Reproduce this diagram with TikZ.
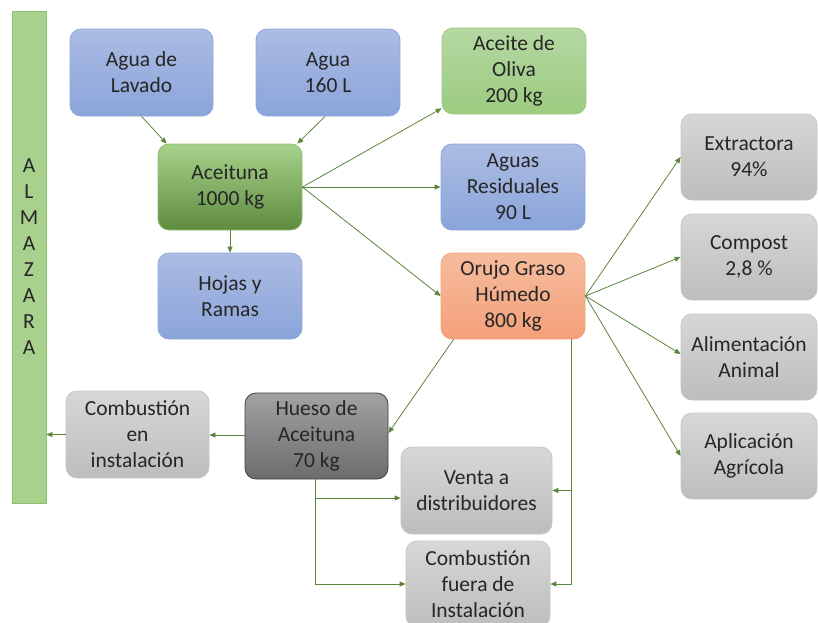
\documentclass[tikz,border=0pt]{standalone}
\usepackage{fontspec}
\setmainfont{Carlito}
\usetikzlibrary{arrows.meta,calc}

\definecolor{txt}{HTML}{262626}
\definecolor{flow}{HTML}{5A863C}
\definecolor{blueT}{HTML}{ACBCE3}
\definecolor{blueB}{HTML}{8AA4DA}
\definecolor{blueD}{HTML}{8EA8DC}
\definecolor{oilT}{HTML}{B4D8A2}
\definecolor{oilB}{HTML}{9CCB80}
\definecolor{oilD}{HTML}{9FCC84}
\definecolor{oliveT}{HTML}{A7D28B}
\definecolor{oliveB}{HTML}{5E8B40}
\definecolor{oliveD}{HTML}{8DBD6E}
\definecolor{pomT}{HTML}{F6BC9C}
\definecolor{pomB}{HTML}{F4A07A}
\definecolor{pomD}{HTML}{F3A47C}
\definecolor{greyT}{HTML}{D7D7D7}
\definecolor{greyB}{HTML}{BDBDBD}
\definecolor{greyD}{HTML}{C6C6C6}
\definecolor{stoneT}{HTML}{A2A2A2}
\definecolor{stoneB}{HTML}{6C6C6C}
\definecolor{stoneD}{HTML}{3F3F3F}
\definecolor{barF}{HTML}{A9D18E}
\definecolor{barD}{HTML}{8CC26E}

\tikzset{
  box/.style={draw, rounded corners=11pt, minimum width=144pt, minimum height=86pt,
    inner sep=0pt, align=center, font=\fontsize{21.5}{26}\selectfont, text=txt,
    line width=0.8pt},
  bluebox/.style={box, top color=blueT, bottom color=blueB, draw=blueD},
  oilbox/.style={box, top color=oilT, bottom color=oilB, draw=oilD},
  olivebox/.style={box, top color=oliveT, bottom color=oliveB, draw=oliveD},
  pombox/.style={box, top color=pomT, bottom color=pomB, draw=pomD},
  greybox/.style={box, top color=greyT, bottom color=greyB, draw=greyD},
  stonebox/.style={box, top color=stoneT, bottom color=stoneB, draw=stoneD},
  flowline/.style={draw=flow, line width=0.8pt, -{Triangle[length=6pt,width=5pt]}},
}

\begin{document}
\begin{tikzpicture}[x=1pt, y=-1pt]
\useasboundingbox (0,0) rectangle (818,622);

% vertical plant bar
\node[draw=barD, fill=barF, line width=0.8pt, minimum width=34pt, minimum height=492pt,
      inner sep=0pt, align=center, font=\fontsize{21.5}{26}\selectfont, text=txt]
  (bar) at (29,257) {A\\L\\M\\A\\Z\\A\\R\\A};

% inputs
\node[bluebox, minimum width=143pt, minimum height=87pt] (lavado) at (141.5,72.5) {Agua de\\Lavado};
\node[bluebox, minimum height=87pt] (agua) at (328,72.5) {Agua\\160 L};

% olive and its first products
\node[olivebox] (aceituna) at (230,187) {Aceituna\\1000 kg};
\node[bluebox] (hojas) at (230,296) {Hojas y\\Ramas};
\node[oilbox] (aceite) at (514,71) {Aceite de\\Oliva\\200 kg};
\node[bluebox] (residuales) at (513,187) {Aguas\\Residuales\\90 L};
\node[pombox] (orujo) at (513,296) {Orujo Graso\\Húmedo\\800 kg};

% pomace destinations
\node[greybox, minimum width=136pt] (extractora) at (749,157) {Extractora\\94\%};
\node[greybox, minimum width=136pt] (compost) at (749,257) {Compost\\2,8 \%};
\node[greybox, minimum width=136pt] (alimentacion) at (749,357) {Alimentación\\Animal};
\node[greybox, minimum width=136pt] (aplicacion) at (749,456) {Aplicación\\Agrícola};

% olive stone and its uses
\node[stonebox, minimum width=143pt] (hueso) at (316.5,436) {Hueso de\\Aceituna\\70 kg};
\node[greybox, minimum width=143pt, minimum height=87pt] (combEn) at (137.5,434.5) {Combustión\\en\\instalación};
\node[greybox, minimum width=151pt, minimum height=87pt] (venta) at (476.5,490.5) {Venta a\\distribuidores};
\node[greybox] (combFuera) at (478,584) {Combustión\\fuera de\\Instalación};

% connectors
\draw[flowline] (lavado.south) -- ($(aceituna.north west)+(9,0)$);
\draw[flowline] ($(agua.south)+(-3,0)$) -- ($(aceituna.north east)+(-5,0)$);
\draw[flowline] (aceituna.south) -- (hojas.north);
\draw[flowline] (aceituna.east) -- ($(aceite.south west)+(0,-6)$);
\draw[flowline] (aceituna.east) -- (residuales.west);
\draw[flowline] (aceituna.east) -- (orujo.west);

\draw[flowline] (orujo.east) -- (extractora.west);
\draw[flowline] (orujo.east) -- (compost.west);
\draw[flowline] (orujo.east) -- ($(alimentacion.west)+(0,-3)$);
\draw[flowline] (orujo.east) -- (aplicacion.west);

\draw[flowline] ($(orujo.south west)+(13,0)$) -- ($(hueso.east)+(0,-3)$);
\coordinate (oDown) at ($(orujo.south east)+(-14,0)$);
\draw[flowline] (oDown) |- (venta.east);
\draw[flowline] (oDown) |- (combFuera.east);

\coordinate (hDown) at ($(hueso.south)+(-1,0)$);
\draw[flowline] (hDown) |- ($(venta.west)+(0,7.5)$);
\draw[flowline] (hDown) |- (combFuera.west);

\coordinate (hWest) at ($(hueso.west)+(0,-1)$);
\draw[flowline] (hWest) -- (hWest -| combEn.east);
\draw[flowline] (combEn.west) -- (combEn.west -| bar.east);
\end{tikzpicture}
\end{document}
